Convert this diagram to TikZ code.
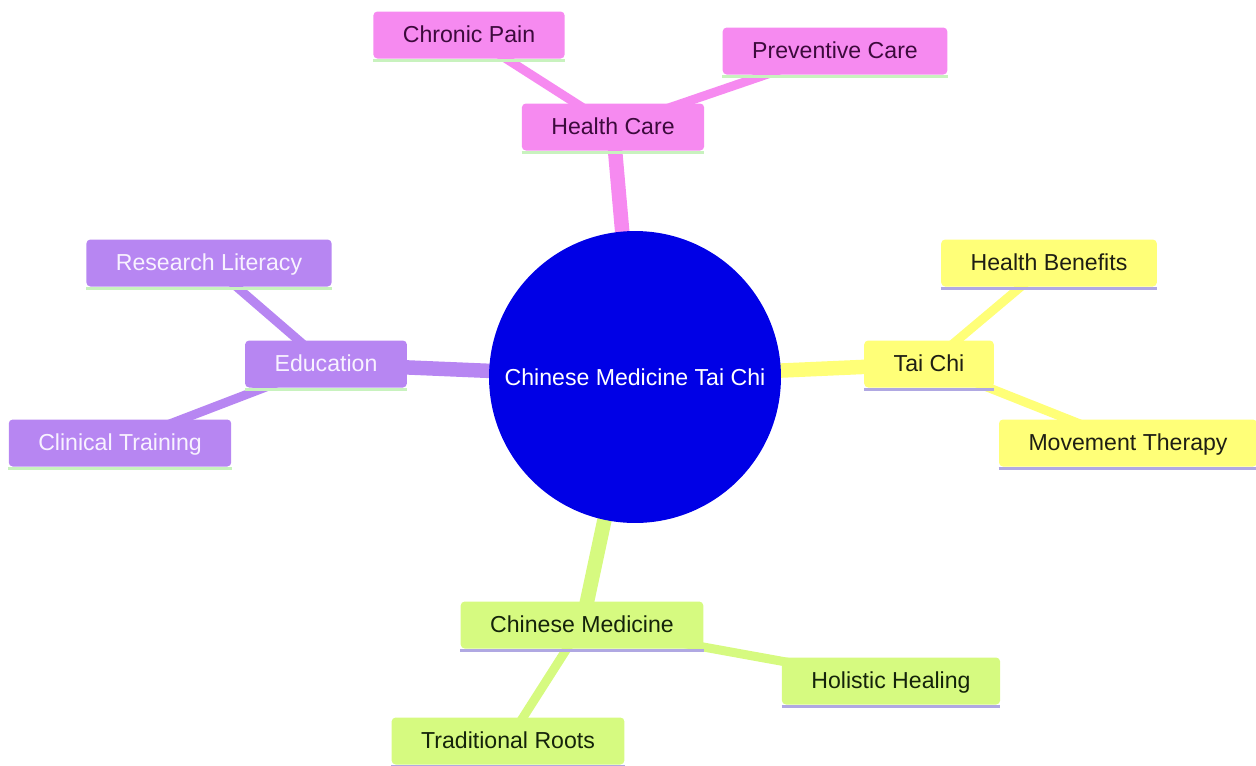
\documentclass[tikz,border=0pt]{standalone}
\usepackage{fontspec}
\setmainfont{Liberation Sans}
\usetikzlibrary{backgrounds}
\definecolor{pinkfill}{RGB}{246,138,240}
\definecolor{purplefill}{RGB}{183,134,242}
\definecolor{yellowfill}{RGB}{255,255,120}
\definecolor{greenfill}{RGB}{214,250,128}
\definecolor{rootblue}{RGB}{0,0,230}
\definecolor{greenline}{RGB}{200,242,190}
\definecolor{lavline}{RGB}{176,168,226}
\definecolor{pinktext}{RGB}{60,10,60}
\definecolor{purpletext}{RGB}{248,242,255}
\definecolor{yellowtext}{RGB}{30,30,20}
\definecolor{greentext}{RGB}{20,35,10}
\begin{document}
\begin{tikzpicture}[x=0.02cm, y=-0.02cm, line join=round, line cap=round, font=\fontsize{13.15}{15}\selectfont]
	\tikzset{leaf/.style={rounded corners=0.08cm, inner xsep=0.59cm, inner ysep=0pt, minimum height=0.94cm, text height=0.9em, text depth=0pt},
		pinkbox/.style={leaf, fill=pinkfill, text=pinktext},
		purplebox/.style={leaf, fill=purplefill, text=purpletext},
		yellowbox/.style={leaf, fill=yellowfill, text=yellowtext},
		greenbox/.style={leaf, fill=greenfill, text=greentext},
		trunk/.style={line width=0.29cm},
		twig/.style={line width=0.18cm}}
	\useasboundingbox (0,0) rectangle (1256,765);
	\node[circle, fill=rootblue, minimum size=5.84cm, inner sep=0pt, text=white] (root) at (635,377) {Chinese Medicine Tai Chi};
	\node[pinkbox] (care) at (613,127) {Health Care};
	\node[pinkbox] (pain) at (469,35) {Chronic Pain};
	\node[pinkbox] (prev) at (835,51) {Preventive Care};
	\node[purplebox] (edu) at (326,364) {Education};
	\node[purplebox] (lit) at (209,263) {Research Literacy};
	\node[purplebox] (clin) at (120,443) {Clinical Training};
	\node[yellowbox] (tai) at (929,364) {Tai Chi};
	\node[yellowbox] (bene) at (1049,263) {Health Benefits};
	\node[yellowbox] (move) at (1128,443) {Movement Therapy};
	\node[greenbox] (med) at (582,625) {Chinese Medicine};
	\node[greenbox] (holi) at (891,681) {Holistic Healing};
	\node[greenbox] (roots) at (508,741) {Traditional Roots};
	\begin{scope}[on background layer]
		\foreach \a/\b/\c in {care/root/pinkfill, edu/root/purplefill, tai/root/yellowfill, med/root/greenfill}
			\draw[trunk, \c] (\a.center) -- (\b.center);
		\foreach \a/\b/\c in {pain/care/pinkfill, prev/care/pinkfill, lit/edu/purplefill, clin/edu/purplefill, bene/tai/yellowfill, move/tai/yellowfill, holi/med/greenfill, roots/med/greenfill}
			\draw[twig, \c] (\a.center) -- (\b.center);
	\end{scope}
	\foreach \n/\c in {care/greenline, pain/greenline, prev/greenline, edu/greenline, lit/greenline, clin/greenline, tai/lavline, bene/lavline, move/lavline, med/lavline, holi/lavline, roots/lavline}
		\draw[line width=0.07cm, line cap=butt, \c] ([yshift=-0.035cm]\n.south west) -- ([yshift=-0.035cm]\n.south east);
\end{tikzpicture}
\end{document}
